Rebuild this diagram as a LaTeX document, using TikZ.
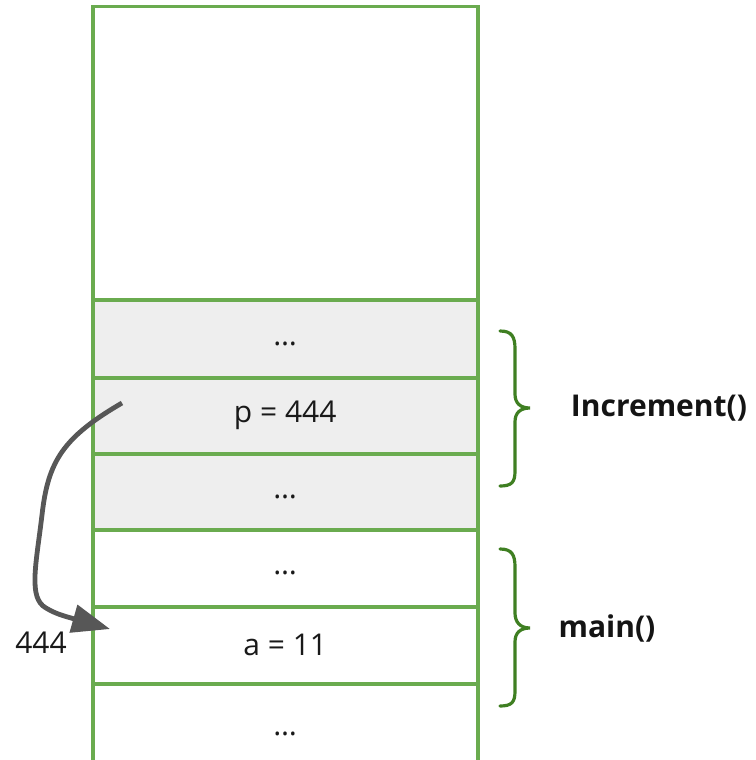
\documentclass[tikz,border=0pt]{standalone}
\usepackage{fontspec}
\setmainfont{Open Sans}
\usetikzlibrary{arrows.meta}
\definecolor{cellgreen}{HTML}{6AAB4F}
\definecolor{bracegreen}{HTML}{3F7F22}
\definecolor{framegray}{HTML}{EEEEEE}
\definecolor{arrowgray}{HTML}{575757}
\tikzset{
  cell/.style={draw=cellgreen, line width=3.5pt, minimum width=385pt, inner sep=0pt,
    anchor=north west, font=\fontsize{30}{34}\selectfont, text=black!90},
  framecell/.style={cell, fill=framegray},
  dots/.style={yshift=-5pt},
  bracestroke/.style={draw=bracegreen, line width=3.2pt, line cap=round},
  framelabel/.style={font=\bfseries\fontsize{30}{34}\selectfont, text=black!92},
}
\begin{document}
\begin{tikzpicture}[x=1pt, y=-1pt]
  \useasboundingbox (0,0) rectangle (755,760);
  % stack column, top to bottom
  \node[cell, minimum height=293pt] (free) at (91,5) {};
  \node[framecell, minimum height=78pt] (inc1) at (91,298) {};
  \node[framecell, minimum height=76pt] (incp) at (91,376) {p = 444};
  \node[framecell, minimum height=76pt] (inc2) at (91,452) {};
  \node[cell, minimum height=77pt] (main1) at (91,528) {};
  \node[cell, minimum height=77pt] (maina) at (91,605) {a = 11};
  \node[cell, minimum height=82pt] (main2) at (91,682) {};
  % elided slots
  \foreach \c/\h in {inc1/0, inc2/0, main1/0, main2/-4}
    \node[font=\fontsize{30}{34}\selectfont, text=black!90, yshift=\h pt]
      at ([yshift=-5pt]\c.center) {…};

  % braces marking the two frames
  \draw[bracestroke] (500,331) .. controls (512,331) and (515,337) .. (515,349)
    -- (515,394) .. controls (515,403) and (520,408) .. (530,408)
    .. controls (520,408) and (515,413) .. (515,422)
    -- (515,471) .. controls (515,482) and (512,486) .. (500,486);
  \draw[bracestroke] (500,549) .. controls (512,549) and (515,555) .. (515,567)
    -- (515,613) .. controls (515,622) and (520,628) .. (530,628)
    .. controls (520,628) and (515,633) .. (515,642)
    -- (515,691) .. controls (515,702) and (512,706) .. (500,706);
  \node[framelabel] (incname) at (659,408) {Increment()};
  \node[framelabel] (mainname) at (607,628) {main()};

  % value copied from p into a
  \coordinate (pfrom) at (122,403);
  \coordinate (ato) at (110,629);
  \node[font=\fontsize{30}{34}\selectfont, text=black!90] (copied) at (41,643) {444};
  \draw[draw=arrowgray, line width=4.8pt, -{Triangle[length=38pt,width=28pt]}]
    (pfrom) .. controls (62,438) and (48,462) .. (42,515)
    .. controls (36,565) and (28,598) .. (46,608)
    .. controls (56,614) and (64,616) .. (ato);
\end{tikzpicture}
\end{document}
